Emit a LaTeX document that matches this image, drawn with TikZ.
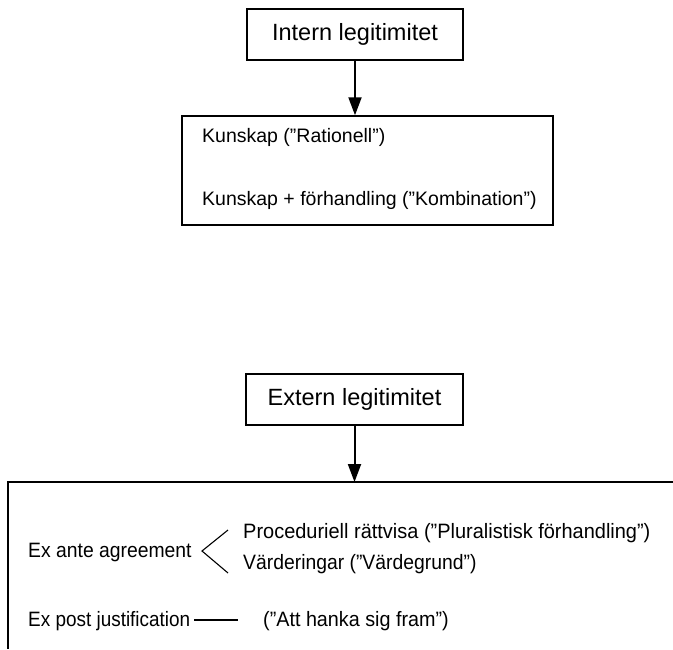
\documentclass[tikz,border=0pt]{standalone}
\usepackage{graphicx}
\usepackage{fontspec}
\setmainfont{Liberation Sans}
\usetikzlibrary{arrows.meta}
\newcommand\narrowtxt[2][0.94]{\scalebox{#1}[1]{#2}}
\begin{document}
\begin{tikzpicture}[x=1pt,y=-1pt,
  titlebox/.style={draw, line width=1.5pt, inner sep=0pt, align=center,
    font=\fontsize{23.5}{28}\selectfont},
  listbox/.style={draw, line width=1.5pt, inner sep=0pt},
  frameline/.style={line width=1.5pt},
  txt/.style={inner sep=0pt, anchor=base west, font=\fontsize{19.5}{23}\selectfont},
  btxt/.style={inner sep=0pt, anchor=base west, font=\fontsize{20.8}{24}\selectfont},
  arr/.style={line width=2pt, -{Triangle[length=18pt, width=13pt]}},
  thin/.style={line width=1.1pt}]
\useasboundingbox (0,0) rectangle (673,649);
% top part
\node[titlebox, minimum width=216pt, minimum height=51pt] (intern) at (355,34.5) {Intern legitimitet};
\node[listbox, minimum width=371pt, minimum height=109pt] (kunskap) at (367.5,170.5) {};
\draw[arr] (intern.south) -- (intern.south |- kunskap.north);
\node[txt] (k1) at (202,142) {Kunskap (”Rationell”)};
\node[txt] (k2) at (202,205) {Kunskap + förhandling (”Kombination”)};
% bottom part
\node[titlebox, minimum width=217pt, minimum height=51pt] (extern) at (354.5,399.5) {Extern legitimitet};
\coordinate (frametop) at (354.5,482);
\coordinate (frameright) at (673,482);
\coordinate (framecorner) at (8,482);
\coordinate (framebottom) at (8,649);
\draw[arr] (extern.south) -- (frametop);
\draw[frameline] (frameright) -- (framecorner) -- (framebottom);
\node[btxt] (exante) at (28,557) {\narrowtxt[0.93]{Ex ante agreement}};
\node[btxt] (proc) at (243,538) {\narrowtxt[0.96]{Proceduriell rättvisa (”Pluralistisk förhandling”)}};
\node[btxt] (varde) at (243,569) {\narrowtxt[0.93]{Värderingar (”Värdegrund”)}};
\coordinate (chtop) at (228,530);
\coordinate (chtip) at (202,551);
\coordinate (chbot) at (228,573);
\draw[thin] (chtop) -- (chtip) -- (chbot);
\node[btxt] (expost) at (28,626) {\narrowtxt[0.91]{Ex post justification}};
\coordinate (dashl) at (194,620);
\coordinate (dashr) at (238,620);
\draw[thin] (dashl) -- (dashr);
\node[btxt] (hanka) at (263,626) {\narrowtxt[0.95]{(”Att hanka sig fram”)}};
\end{tikzpicture}
\end{document}
